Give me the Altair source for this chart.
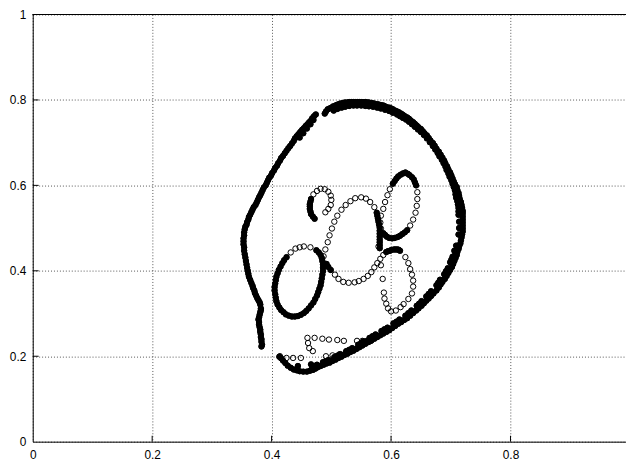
import altair as alt
import pandas as pd

# ---------------- data ----------------
x_ticks = [0, 0.2, 0.4, 0.6, 0.8]
y_ticks = [0, 0.2, 0.4, 0.6, 0.8, 1]

# segments where the circles overlap so densely that they read as a solid band
outer_left = [
    (0.383, 0.223), (0.384, 0.227), (0.383, 0.234), (0.382, 0.245), (0.381, 0.257),
    (0.380, 0.268), (0.379, 0.280), (0.379, 0.291), (0.381, 0.303), (0.382, 0.312),
    (0.381, 0.321), (0.378, 0.331), (0.374, 0.342), (0.371, 0.354), (0.368, 0.365),
    (0.364, 0.379), (0.361, 0.393), (0.359, 0.407), (0.357, 0.423), (0.355, 0.439),
    (0.354, 0.455), (0.353, 0.469), (0.354, 0.483), (0.355, 0.497), (0.358, 0.508),
    (0.361, 0.520), (0.364, 0.531), (0.368, 0.543), (0.373, 0.554), (0.377, 0.566),
    (0.381, 0.577), (0.385, 0.589), (0.390, 0.600), (0.394, 0.612), (0.399, 0.623),
    (0.404, 0.635), (0.409, 0.646), (0.414, 0.658), (0.419, 0.669), (0.425, 0.681),
    (0.431, 0.692), (0.437, 0.704), (0.442, 0.715), (0.448, 0.725), (0.454, 0.734),
    (0.460, 0.743), (0.466, 0.752), (0.471, 0.762), (0.474, 0.766),
    (0.447, 0.712), (0.453, 0.722), (0.459, 0.733), (0.465, 0.743), (0.470, 0.753),
]
outer_left_b = [
    (0.383, 0.240), (0.382, 0.251), (0.381, 0.262), (0.379, 0.274), (0.378, 0.286),
    (0.380, 0.297), (0.382, 0.308), (0.380, 0.326), (0.376, 0.336), (0.372, 0.348),
    (0.369, 0.360), (0.366, 0.372), (0.362, 0.386), (0.360, 0.400), (0.358, 0.415),
    (0.356, 0.431), (0.354, 0.447), (0.353, 0.462), (0.353, 0.476), (0.354, 0.490),
    (0.356, 0.503), (0.359, 0.514), (0.362, 0.526), (0.366, 0.537), (0.370, 0.549),
    (0.375, 0.560), (0.379, 0.572), (0.383, 0.583), (0.387, 0.595), (0.392, 0.606),
    (0.396, 0.618), (0.401, 0.629), (0.406, 0.641), (0.411, 0.652), (0.416, 0.664),
    (0.422, 0.675), (0.428, 0.687), (0.434, 0.698), (0.439, 0.710), (0.445, 0.720),
    (0.451, 0.730), (0.457, 0.739), (0.463, 0.748), (0.468, 0.757),
]

outer_arc = [
    (0.489, 0.768), (0.494, 0.778), (0.500, 0.782), (0.507, 0.787), (0.514, 0.791),
    (0.520, 0.793), (0.527, 0.794), (0.534, 0.795), (0.540, 0.795), (0.547, 0.795),
    (0.553, 0.795), (0.560, 0.794), (0.567, 0.793), (0.573, 0.791), (0.580, 0.789),
    (0.587, 0.787), (0.593, 0.783), (0.600, 0.780), (0.607, 0.775), (0.613, 0.771),
    (0.620, 0.765), (0.627, 0.759), (0.633, 0.752), (0.640, 0.744), (0.646, 0.736),
    (0.653, 0.727), (0.660, 0.717), (0.666, 0.705), (0.673, 0.693), (0.680, 0.679),
    (0.686, 0.665), (0.691, 0.651), (0.696, 0.637), (0.701, 0.623), (0.705, 0.609),
    (0.710, 0.596), (0.713, 0.582), (0.715, 0.568), (0.718, 0.554), (0.720, 0.540),
    (0.720, 0.527), (0.720, 0.513), (0.720, 0.499), (0.719, 0.485), (0.717, 0.471),
    (0.714, 0.457), (0.711, 0.444), (0.708, 0.430), (0.704, 0.416), (0.699, 0.402),
    (0.693, 0.388), (0.686, 0.374), (0.680, 0.361), (0.671, 0.347), (0.663, 0.335),
    (0.655, 0.324), (0.646, 0.312), (0.637, 0.301), (0.627, 0.289), (0.617, 0.280),
    (0.607, 0.271), (0.597, 0.261), (0.587, 0.253), (0.577, 0.245), (0.567, 0.237),
    (0.557, 0.229), (0.547, 0.221), (0.537, 0.213), (0.527, 0.206), (0.517, 0.199),
    (0.507, 0.192), (0.497, 0.185), (0.487, 0.180), (0.477, 0.174), (0.469, 0.168),
    (0.459, 0.164), (0.447, 0.165), (0.437, 0.169), (0.427, 0.178), (0.419, 0.190),
    (0.413, 0.199),
]
outer_arc_b = [
    (0.491, 0.773), (0.497, 0.780), (0.503, 0.785), (0.510, 0.789), (0.517, 0.792),
    (0.523, 0.794), (0.530, 0.795), (0.537, 0.795), (0.544, 0.795), (0.550, 0.795),
    (0.557, 0.795), (0.563, 0.794), (0.570, 0.792), (0.577, 0.790), (0.583, 0.788),
    (0.590, 0.785), (0.597, 0.782), (0.603, 0.778), (0.610, 0.773), (0.617, 0.768),
    (0.623, 0.762), (0.630, 0.756), (0.637, 0.748), (0.643, 0.740), (0.650, 0.732),
    (0.656, 0.722), (0.663, 0.711), (0.670, 0.699), (0.676, 0.686), (0.683, 0.672),
    (0.689, 0.658), (0.694, 0.644), (0.699, 0.630), (0.703, 0.616), (0.707, 0.603),
    (0.711, 0.589), (0.714, 0.575), (0.717, 0.561), (0.719, 0.547), (0.720, 0.534),
    (0.720, 0.520), (0.720, 0.506), (0.720, 0.492), (0.718, 0.478), (0.716, 0.464),
    (0.713, 0.451), (0.710, 0.437), (0.706, 0.423), (0.702, 0.409), (0.696, 0.395),
    (0.690, 0.381), (0.683, 0.368), (0.676, 0.354), (0.667, 0.341), (0.659, 0.330),
    (0.651, 0.318), (0.642, 0.307), (0.632, 0.295), (0.622, 0.285), (0.612, 0.276),
    (0.602, 0.266), (0.592, 0.257), (0.582, 0.249), (0.572, 0.241), (0.562, 0.233),
    (0.552, 0.225), (0.542, 0.217), (0.532, 0.210), (0.522, 0.203), (0.512, 0.196),
    (0.502, 0.189), (0.492, 0.183), (0.482, 0.177), (0.473, 0.171), (0.464, 0.166),
    (0.453, 0.164), (0.442, 0.167), (0.432, 0.173), (0.423, 0.184), (0.416, 0.195),
]

# inner edge of the thick upper-right band
outer_arc_inner_top = [
    (0.504, 0.775), (0.517, 0.782), (0.530, 0.786), (0.543, 0.787), (0.557, 0.786),
    (0.570, 0.784), (0.583, 0.780), (0.597, 0.774), (0.610, 0.766), (0.620, 0.758),
    (0.630, 0.749), (0.640, 0.737), (0.650, 0.725), (0.660, 0.710), (0.670, 0.692),
    (0.678, 0.676), (0.685, 0.660), (0.691, 0.644), (0.696, 0.628), (0.701, 0.612),
    (0.705, 0.596), (0.708, 0.579), (0.711, 0.563), (0.713, 0.547), (0.713, 0.531),
    (0.714, 0.515), (0.714, 0.500), (0.713, 0.485),
    (0.510, 0.779), (0.523, 0.784), (0.537, 0.787), (0.550, 0.787), (0.563, 0.785),
    (0.577, 0.782), (0.590, 0.777), (0.603, 0.770), (0.615, 0.762), (0.625, 0.754),
    (0.635, 0.743), (0.645, 0.731), (0.655, 0.718), (0.665, 0.701), (0.674, 0.684),
    (0.681, 0.668), (0.688, 0.652), (0.693, 0.636), (0.698, 0.620), (0.703, 0.604),
    (0.707, 0.588), (0.709, 0.571), (0.712, 0.555), (0.713, 0.539),
]

# inner edge of the lower-right band
outer_arc_inner_low = [
    (0.709, 0.459), (0.706, 0.447), (0.703, 0.433), (0.699, 0.420), (0.695, 0.406),
    (0.689, 0.392), (0.682, 0.379), (0.676, 0.366), (0.667, 0.352), (0.659, 0.340),
    (0.651, 0.329), (0.643, 0.318), (0.634, 0.307), (0.624, 0.295), (0.614, 0.286),
    (0.604, 0.277), (0.594, 0.267), (0.584, 0.259), (0.574, 0.251), (0.564, 0.243),
    (0.554, 0.235), (0.545, 0.227), (0.535, 0.219), (0.525, 0.212), (0.515, 0.205),
    (0.505, 0.198), (0.495, 0.191), (0.486, 0.186), (0.476, 0.180), (0.468, 0.174),
    (0.708, 0.440), (0.701, 0.426), (0.692, 0.399), (0.679, 0.372), (0.663, 0.346),
    (0.647, 0.323), (0.629, 0.301), (0.609, 0.281), (0.589, 0.263), (0.569, 0.247),
    (0.550, 0.231), (0.530, 0.215), (0.510, 0.201), (0.490, 0.188), (0.472, 0.177),
]

small_cap_dense = [
    (0.472, 0.522), (0.466, 0.533), (0.464, 0.545), (0.464, 0.556), (0.466, 0.568),
    (0.469, 0.527), (0.465, 0.539), (0.464, 0.551), (0.465, 0.562),
]
small_cap_open = [
    (0.470, 0.579), (0.476, 0.587), (0.482, 0.592), (0.489, 0.591), (0.495, 0.585),
    (0.499, 0.576), (0.500, 0.566), (0.499, 0.554), (0.495, 0.545), (0.490, 0.537),
]

mid_arc_open = [
    (0.487, 0.434), (0.490, 0.450), (0.494, 0.467), (0.497, 0.483), (0.501, 0.499),
    (0.505, 0.515), (0.510, 0.529), (0.517, 0.543), (0.524, 0.554), (0.532, 0.563),
    (0.540, 0.570), (0.550, 0.572), (0.558, 0.569), (0.565, 0.561), (0.572, 0.549),
]
mid_arc_dense = [
    (0.576, 0.536), (0.578, 0.522), (0.580, 0.508), (0.581, 0.494), (0.581, 0.480),
    (0.581, 0.467), (0.581, 0.453),
    (0.577, 0.529), (0.579, 0.515), (0.581, 0.501), (0.581, 0.487), (0.581, 0.473),
    (0.581, 0.460),
]

right_loop_dense = [
    (0.603, 0.604), (0.609, 0.616), (0.616, 0.625), (0.624, 0.630), (0.631, 0.624),
    (0.638, 0.614), (0.642, 0.600),
    (0.606, 0.610), (0.612, 0.621), (0.620, 0.628), (0.628, 0.627), (0.635, 0.619),
    (0.640, 0.607),
    (0.627, 0.495), (0.619, 0.486), (0.611, 0.479), (0.602, 0.476), (0.593, 0.480),
    (0.587, 0.488),
    (0.623, 0.490), (0.615, 0.482), (0.606, 0.477), (0.597, 0.477), (0.590, 0.484),
]
right_loop_open = [
    (0.644, 0.584), (0.644, 0.568), (0.643, 0.552), (0.641, 0.536), (0.637, 0.520),
    (0.632, 0.506), (0.583, 0.499), (0.582, 0.513), (0.583, 0.529), (0.587, 0.545),
    (0.590, 0.561), (0.594, 0.577), (0.598, 0.591),
]

left_loop_dense = [
    (0.475, 0.448), (0.482, 0.437), (0.485, 0.423),
    (0.486, 0.407), (0.485, 0.391), (0.483, 0.374), (0.480, 0.358), (0.476, 0.342),
    (0.470, 0.326), (0.462, 0.312), (0.454, 0.301), (0.444, 0.294), (0.434, 0.293),
    (0.424, 0.298), (0.416, 0.308), (0.410, 0.321), (0.407, 0.337), (0.405, 0.354),
    (0.406, 0.370), (0.408, 0.386), (0.412, 0.402), (0.418, 0.418), (0.425, 0.432),
    (0.479, 0.443), (0.484, 0.430), (0.486, 0.415), (0.486, 0.399), (0.484, 0.382),
    (0.482, 0.366), (0.478, 0.350), (0.473, 0.334), (0.466, 0.319), (0.458, 0.306),
    (0.449, 0.297), (0.439, 0.293), (0.429, 0.295), (0.420, 0.303), (0.413, 0.314),
    (0.408, 0.329), (0.406, 0.345), (0.405, 0.362), (0.407, 0.378), (0.410, 0.394),
    (0.415, 0.410), (0.421, 0.425),
]
left_loop_open = [
    (0.432, 0.443), (0.440, 0.452), (0.447, 0.455), (0.454, 0.457), (0.465, 0.455),
]

branch_dense = [
    (0.492, 0.416), (0.499, 0.402), (0.495, 0.409),
    (0.592, 0.444), (0.598, 0.447), (0.605, 0.450), (0.611, 0.450), (0.615, 0.447),
    (0.595, 0.446), (0.601, 0.449), (0.608, 0.450), (0.613, 0.449),
]
branch_open = [
    (0.506, 0.391), (0.512, 0.381), (0.520, 0.374), (0.529, 0.372), (0.539, 0.373),
    (0.546, 0.376), (0.554, 0.381), (0.561, 0.388), (0.567, 0.397), (0.572, 0.408),
    (0.577, 0.418), (0.582, 0.428), (0.587, 0.437),
]

right_c_open = [
    (0.624, 0.432), (0.629, 0.418), (0.632, 0.404), (0.635, 0.391), (0.637, 0.377),
    (0.637, 0.363), (0.635, 0.347), (0.629, 0.334), (0.621, 0.322), (0.616, 0.315),
    (0.608, 0.307), (0.600, 0.305), (0.595, 0.312), (0.592, 0.323), (0.589, 0.335),
    (0.588, 0.349), (0.586, 0.381), (0.583, 0.413), (0.579, 0.457),
]

bottom_dense = [(0.560, 0.236), (0.566, 0.236), (0.444, 0.177), (0.466, 0.181)]
bottom_open = [
    (0.460, 0.243), (0.472, 0.243), (0.485, 0.241), (0.496, 0.239), (0.510, 0.238),
    (0.521, 0.236), (0.543, 0.236), (0.552, 0.236),
    (0.461, 0.231), (0.463, 0.219), (0.469, 0.212),
    (0.491, 0.200), (0.502, 0.202), (0.513, 0.204), (0.524, 0.208),
    (0.414, 0.200), (0.425, 0.196), (0.436, 0.196), (0.449, 0.196),
]

dense_parts = [outer_left, outer_left_b, outer_arc, outer_arc_b, outer_arc_inner_top,
               outer_arc_inner_low, small_cap_dense, mid_arc_dense, right_loop_dense,
               left_loop_dense, branch_dense, bottom_dense]
open_parts = [small_cap_open, mid_arc_open, right_loop_open, left_loop_open,
              branch_open, right_c_open, bottom_open]

dense_df = pd.DataFrame([{"x": a, "y": b} for c in dense_parts for (a, b) in c])
open_df = pd.DataFrame([{"x": a, "y": b} for c in open_parts for (a, b) in c])
ticks_x_df = pd.DataFrame({"t": x_ticks[1:]})
ticks_y_df = pd.DataFrame({"t": y_ticks[1:-1]})

# ---------------- chart ----------------
W, H = 600, 432
X_MAX = 0.9934
xs = alt.Scale(domain=[0, X_MAX], nice=False, zero=False)
ys = alt.Scale(domain=[0, 1], nice=False, zero=False)

x_enc = alt.X("x:Q", scale=xs, axis=alt.Axis(values=x_ticks, format="~g", title=None,
                                             labelFlush=False))
y_enc = alt.Y("y:Q", scale=ys, axis=alt.Axis(values=y_ticks, format="~g", title=None,
                                             labelPadding=7))

dense_pts = alt.Chart(dense_df).mark_point(
    shape="circle", filled=True, color="black", size=36, strokeWidth=0, opacity=1
).encode(x=x_enc, y=y_enc)

# ring outlines on the dense bands, as the overlapping circles show at their edges
rim_pts = alt.Chart(dense_df).mark_point(
    shape="circle", filled=False, color="black", size=30, strokeWidth=1, opacity=1
).encode(x="x:Q", y="y:Q")

open_pts = alt.Chart(open_df).mark_point(
    shape="circle", filled=False, color="black", size=30, strokeWidth=1, opacity=1
).encode(x="x:Q", y="y:Q")

xtick_marks = alt.Chart(ticks_x_df).mark_rule(color="black", strokeWidth=1).encode(
    x=alt.X("t:Q", scale=xs), y=alt.value(H), y2=alt.value(H - 6)
)
ytick_marks = alt.Chart(ticks_y_df).mark_rule(color="black", strokeWidth=1).encode(
    y=alt.Y("t:Q", scale=ys), x=alt.value(0), x2=alt.value(6)
)
top_border = alt.Chart(ticks_x_df).mark_rule(color="black", strokeWidth=1).encode(
    x=alt.value(0), x2=alt.value(W), y=alt.value(0)
)

chart = alt.layer(dense_pts, rim_pts, open_pts, xtick_marks, ytick_marks, top_border).properties(
    width=W, height=H,
    autosize=alt.AutoSizeParams(type="none"),
    padding={"left": 25, "top": 4, "right": 0, "bottom": 20},
).configure_view(stroke=None).configure_axis(
    domainColor="black", domainWidth=1, ticks=False,
    labelFont="Liberation Sans", labelFontSize=12, labelColor="black",
    labelPadding=8, grid=True, gridColor="#555555", gridDash=[1, 2], gridWidth=1,
    labelOverlap=False,
)

chart.save("out.html", embed_options={"renderer": "svg", "actions": False})
